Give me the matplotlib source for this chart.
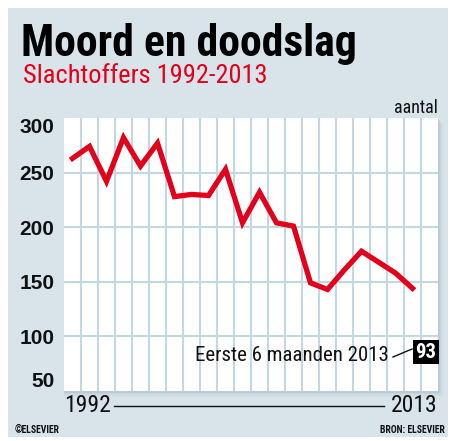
import matplotlib
matplotlib.use("Agg")
import matplotlib.pyplot as plt
from matplotlib.patches import Rectangle

# Slachtoffers moord en doodslag per jaar
jaren = list(range(1992, 2013))
aantal = [263, 274, 242, 282, 256, 277, 228, 230, 229, 253,
          204, 232, 204, 201, 149, 143, 161, 178, 168, 158, 144]
y_ticks = [50, 100, 150, 200, 250, 300]
eerste_helft_2013 = 93

bg = "#d8e3ea"
grid_kleur = "#c3d7e3"
rood = "#e2001a"
smal = ["Roboto Condensed", "DejaVu Sans"]
breed = ["Liberation Sans", "DejaVu Sans"]

fig = plt.figure(figsize=(4.55, 4.41), dpi=100)
fig.patch.set_facecolor("white")

# achtergrondpaneel
fig.patches.append(Rectangle((8 / 455, 1 - 437 / 441), 440 / 455, 429 / 441,
                             transform=fig.transFigure, facecolor=bg,
                             edgecolor="none", zorder=-3))

left, right = 64 / 455, 438 / 455
bottom, top = 1 - 391 / 441, 1 - 118 / 441

# schaduw rond het plotvlak
for i, a in enumerate([0.12, 0.08, 0.05, 0.03]):
    d = (i + 1) * 1.5
    fig.patches.append(Rectangle((left, bottom - d / 441),
                                 right - left + d / 455, top - bottom,
                                 transform=fig.transFigure, facecolor="#6f8b9b",
                                 alpha=a, edgecolor="none", zorder=-2))

ax = fig.add_axes([left, bottom, right - left, top - bottom])
ax.set_facecolor("white")
ax.set_xlim(1991.5, 2013.5)
ax.set_ylim(50, 300)

for x in range(1992, 2013):
    ax.axvline(x + 0.5, color=grid_kleur, lw=1.5, zorder=1)
for y in y_ticks[1:-1]:
    ax.axhline(y, color=grid_kleur, lw=1.5, zorder=1)

ax.plot(jaren, aantal, color=rood, lw=3.8, solid_joinstyle="miter", zorder=3)

for s in ax.spines.values():
    s.set_visible(False)
ax.set_xticks([])
ax.set_yticks(y_ticks)
labels = ax.set_yticklabels([str(v) for v in y_ticks], family=breed, fontsize=15,
                            fontweight="bold", color="#111111")
labels[0].set_va("bottom")
labels[-1].set_va("top")
ax.tick_params(axis="y", length=0, pad=7)

# titels
fig.text(21 / 455, 1 - 56 / 441, "Moord en doodslag", family=smal,
         fontsize=31.5, fontweight="black", color="black", va="baseline")
fig.text(23 / 455, 1 - 83 / 441, "Slachtoffers 1992-2013", family=smal,
         fontsize=19, color=rood, va="baseline")
fig.text(438 / 455, 1 - 113 / 441, "aantal", family=smal, fontsize=13,
         color="#111111", ha="right", va="baseline")

# x-as labels met lijn
fig.text(64 / 455, 1 - 412 / 441, "1992", family=smal, fontsize=17,
         color="#111111", va="baseline")
fig.text(438 / 455, 1 - 412 / 441, "2013", family=smal, fontsize=17,
         color="#111111", ha="right", va="baseline")
fig.add_artist(plt.Line2D([114 / 455, 384 / 455], [1 - 406 / 441, 1 - 406 / 441],
                          transform=fig.transFigure, color="#111111", lw=1))

# annotatie eerste helft 2013
fig.text(389 / 455, 1 - 361 / 441, "Eerste 6 maanden 2013", family=smal,
         fontsize=15, color="#111111", ha="right", va="baseline")
fig.add_artist(plt.Line2D([393 / 455, 412 / 455], [1 - 357 / 441, 1 - 349 / 441],
                          transform=fig.transFigure, color="#111111", lw=1))
fig.text(426 / 455, 1 - 352 / 441, str(eerste_helft_2013), family=smal,
         fontsize=15, fontweight="bold", color="white", ha="center", va="center",
         bbox=dict(boxstyle="square,pad=0.1", facecolor="black", edgecolor="none"))

# bron
fig.text(15 / 455, 1 - 433 / 441, "©ELSEVIER", family=smal, fontsize=7,
         fontweight="bold", color="#111111", va="baseline")
fig.text(445 / 455, 1 - 433 / 441, "BRON: ELSEVIER", family=smal, fontsize=7,
         fontweight="bold", color="#111111", ha="right", va="baseline")

fig.savefig("out.png", dpi=100, facecolor=fig.get_facecolor())
